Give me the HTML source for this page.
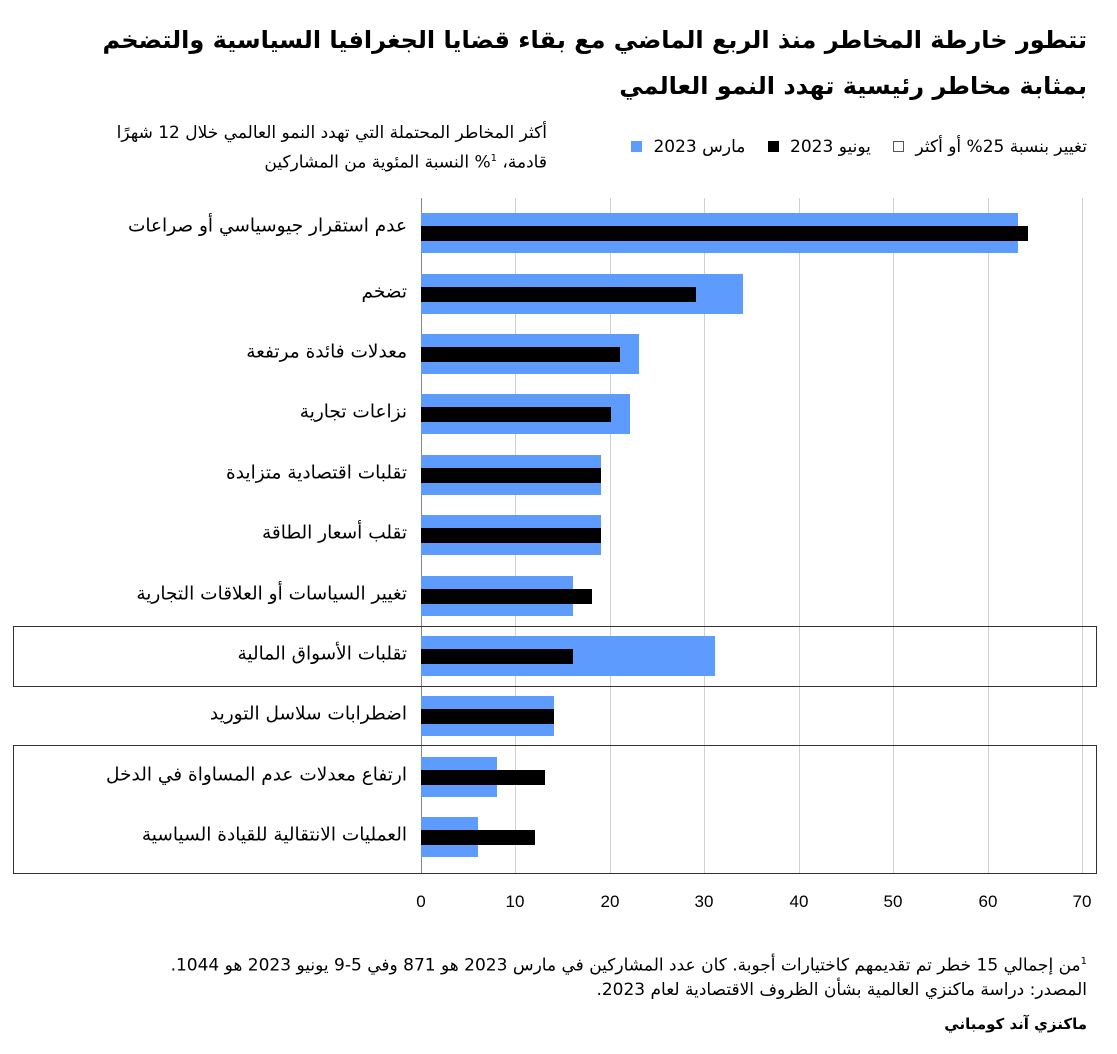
<!DOCTYPE html>
<html><head><meta charset="utf-8"><style>
body{margin:0;width:1117px;height:1054px;background:#fff;position:relative;overflow:hidden;font-family:"DejaVu Sans","Liberation Sans",sans-serif;color:#000}
.t{position:absolute;direction:rtl;white-space:nowrap}
.lab{position:absolute;right:710px;direction:rtl;white-space:nowrap;font-size:18.5px;transform:translateY(-50%)}
.g{position:absolute;top:198px;height:675px;width:1px;background:#d0d0d0}
.b{position:absolute;left:421px;background:#5e9bff;height:40px}
.k{position:absolute;left:421px;background:#000;height:15px}
.tk{position:absolute;top:892px;font-size:17px;transform:translateX(-50%);font-family:"Liberation Sans",sans-serif}
.box{position:absolute;left:13px;width:1084px;border:1px solid #333;box-sizing:border-box}
</style></head><body>
<div class="t" style="right:30px;top:26px;font-size:24px;font-weight:bold">تتطور خارطة المخاطر منذ الربع الماضي مع بقاء قضايا الجغرافيا السياسية والتضخم</div>
<div class="t" style="right:30px;top:72px;font-size:24px;font-weight:bold">بمثابة مخاطر رئيسية تهدد النمو العالمي</div>
<div class="t" style="right:570px;top:120px;font-size:17px;line-height:26px">أكثر المخاطر المحتملة التي تهدد النمو العالمي خلال 12 شهرًا<br>قادمة، <sup style="font-size:10px">1</sup>% النسبة المئوية من المشاركين</div>
<div class="t" style="right:30px;top:137px;font-size:17px">تغيير بنسبة 25% أو أكثر&nbsp;<span style="display:inline-block;width:9px;height:9px;border:1px solid #555;margin:0 6px"></span>&nbsp;&nbsp;&nbsp;يونيو 2023&nbsp;<span style="display:inline-block;width:11px;height:11px;background:#000;margin:0 6px"></span>&nbsp;&nbsp;&nbsp;مارس 2023&nbsp;<span style="display:inline-block;width:11px;height:11px;background:#5e9bff;margin:0 6px"></span></div>

<div class="g" style="left:421px;background:#888"></div>
<div class="g" style="left:515px"></div><div class="g" style="left:610px"></div><div class="g" style="left:704px"></div><div class="g" style="left:799px"></div><div class="g" style="left:893px"></div><div class="g" style="left:988px"></div><div class="g" style="left:1082px"></div>
<div style="position:absolute;left:13px;top:873px;width:1084px;height:1px;background:#333"></div>
<div class="box" style="top:626px;height:61px"></div>
<div class="box" style="top:745px;height:129px"></div>

<div class="b" style="top:213px;width:597px"></div><div class="k" style="top:226px;width:607px"></div>
<div class="b" style="top:274px;width:322px"></div><div class="k" style="top:287px;width:275px"></div>
<div class="b" style="top:334px;width:218px"></div><div class="k" style="top:347px;width:199px"></div>
<div class="b" style="top:394px;width:209px"></div><div class="k" style="top:407px;width:190px"></div>
<div class="b" style="top:455px;width:180px"></div><div class="k" style="top:468px;width:180px"></div>
<div class="b" style="top:515px;width:180px"></div><div class="k" style="top:528px;width:180px"></div>
<div class="b" style="top:576px;width:152px"></div><div class="k" style="top:589px;width:171px"></div>
<div class="b" style="top:636px;width:294px"></div><div class="k" style="top:649px;width:152px"></div>
<div class="b" style="top:696px;width:133px"></div><div class="k" style="top:709px;width:133px"></div>
<div class="b" style="top:757px;width:76px"></div><div class="k" style="top:770px;width:124px"></div>
<div class="b" style="top:817px;width:57px"></div><div class="k" style="top:830px;width:114px"></div>

<div class="lab" style="top:226px">عدم استقرار جيوسياسي أو صراعات</div>
<div class="lab" style="top:292px">تضخم</div>
<div class="lab" style="top:352px">معدلات فائدة مرتفعة</div>
<div class="lab" style="top:412px">نزاعات تجارية</div>
<div class="lab" style="top:473px">تقلبات اقتصادية متزايدة</div>
<div class="lab" style="top:533px">تقلب أسعار الطاقة</div>
<div class="lab" style="top:594px">تغيير السياسات أو العلاقات التجارية</div>
<div class="lab" style="top:654px">تقلبات الأسواق المالية</div>
<div class="lab" style="top:714px">اضطرابات سلاسل التوريد</div>
<div class="lab" style="top:775px">ارتفاع معدلات عدم المساواة في الدخل</div>
<div class="lab" style="top:835px">العمليات الانتقالية للقيادة السياسية</div>

<div class="tk" style="left:421px">0</div><div class="tk" style="left:515px">10</div><div class="tk" style="left:610px">20</div><div class="tk" style="left:704px">30</div><div class="tk" style="left:799px">40</div><div class="tk" style="left:893px">50</div><div class="tk" style="left:988px">60</div><div class="tk" style="left:1082px">70</div>

<div class="t" style="right:30px;top:950px;font-size:17px;line-height:24px"><sup style="font-size:10px">1</sup>من إجمالي 15 خطر تم تقديمهم كاختيارات أجوبة. كان عدد المشاركين في مارس 2023 هو 871 وفي 5-9 يونيو 2023 هو 1044.<br>المصدر: دراسة ماكنزي العالمية بشأن الظروف الاقتصادية لعام 2023.</div>
<div class="t" style="right:30px;top:1015px;font-size:15px;font-weight:bold">ماكنزي آند كومباني</div>
</body></html>
